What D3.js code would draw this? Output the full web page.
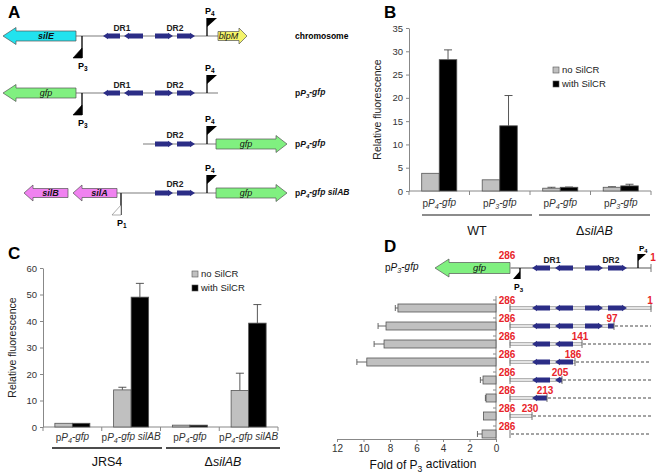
<!DOCTYPE html>
<html><head><meta charset="utf-8">
<script src="https://cdn.jsdelivr.net/npm/d3@7"></script>
<style>body{margin:0;background:#fff} svg{display:block;font-family:"Liberation Sans",Arial,sans-serif}</style>
</head><body><svg id="c" width="661" height="474"></svg>
<script>
// ---------- Panel B data ----------
const bPromoters = ["4", "3", "4", "3"];
const bStrains = ["WT", "ΔsilAB"];
const bNoSilCR = [3.8, 2.4, 0.6, 0.8];
const bNoSilCRErr = [0, 0, 0.2, 0.12];
const bWithSilCR = [28.2, 14.0, 0.8, 1.1];
const bWithSilCRErr = [2.1, 6.5, 0.05, 0.35];
const bYTicks = [0, 5, 10, 15, 20, 25, 30, 35];

// ---------- Panel C data ----------
const cConstructs = ["", " silAB", "", " silAB"];
const cStrains = ["JRS4", "ΔsilAB"];
const cNoSilCR = [1.4, 14.0, 0.7, 13.8];
const cNoSilCRErr = [0, 1.0, 0, 6.5];
const cWithSilCR = [1.4, 49.0, 0.7, 39.2];
const cWithSilCRErr = [0, 5.2, 0, 7.0];
const cYTicks = [0, 10, 20, 30, 40, 50, 60];

// ---------- Panel D data ----------
const dDeletionEnds = [1, 97, 141, 186, 205, 213, 230, 286];
const dFold = [7.4, 8.3, 8.45, 9.75, 0.98, 0.75, 0.95, 1.05];
const dFoldErr = [0.2, 0.6, 0.75, 0.75, 0.2, 0.05, 0, 0.35];
const dXTicks = [12, 10, 8, 6, 4, 2, 0];

const legendLabels = ["no SilCR", "with SilCR"];
const GREY = "#c0c0c0", BLUE = "#2b2d86", RED = "#e8232a";

const svg = d3.select("#c");

// ---------- helpers ----------
function rich(g, x, y, parts, opts) {
  const t = g.append("text").attr("x", x).attr("y", y)
    .attr("font-size", opts.size || 10).attr("fill", opts.fill || "#222")
    .attr("font-weight", opts.weight || "normal")
    .attr("text-anchor", opts.anchor || "start");
  let shifted = false;
  parts.forEach(p => {
    const s = t.append("tspan").text(p.t);
    if (p.i) s.attr("font-style", "italic");
    if (p.sub) { s.attr("dy", "0.3em").attr("font-size", (opts.size || 10) * 0.72); shifted = true; }
    else if (shifted) { s.attr("dy", "-0.3em"); shifted = false; }
  });
  return t;
}
function plasmid(prom, extra) {
  const a = [{t: "p"}, {t: "P", i: true}, {t: prom, i: true, sub: true}, {t: "-gfp" + (extra || ""), i: true}];
  return a;
}
function arrowPts(xl, xr, y, dir, bh, hh, hl) {
  if (dir < 0) return [[xl, y], [xl + hl, y - hh / 2], [xl + hl, y - bh / 2], [xr, y - bh / 2], [xr, y + bh / 2], [xl + hl, y + bh / 2], [xl + hl, y + hh / 2]];
  return [[xr, y], [xr - hl, y - hh / 2], [xr - hl, y - bh / 2], [xl, y - bh / 2], [xl, y + bh / 2], [xr - hl, y + bh / 2], [xr - hl, y + hh / 2]];
}
function gene(g, xl, xr, y, dir, fill, label, o) {
  o = o || {};
  g.append("polygon").attr("points", arrowPts(xl, xr, y, dir, o.bh || 10, o.hh || 17, o.hl || 12).join(" "))
    .attr("fill", fill).attr("stroke", "#555").attr("stroke-width", 0.7);
  const cx = dir < 0 ? (xl + (o.hl || 12) + xr) / 2 : (xl + xr - (o.hl || 12)) / 2;
  g.append("text").attr("x", cx).attr("y", y + 3.3).attr("text-anchor", "middle")
    .attr("font-size", o.fs || 9).attr("font-style", "italic").attr("font-weight", o.fw || "bold")
    .attr("fill", "#111").text(label);
}
function dr(g, xl, xr, y, dir) {
  g.append("polygon").attr("points", arrowPts(xl, xr, y, dir, 5, 6.5, 5).join(" ")).attr("fill", BLUE);
}
function promoterUp(g, x, y, label) {
  g.append("line").attr("x1", x).attr("x2", x).attr("y1", y).attr("y2", y - 18).attr("stroke", "#000").attr("stroke-width", 1.3);
  g.append("polygon").attr("points", [[x, y - 18], [x + 10, y - 18], [x, y - 9]].join(" ")).attr("fill", "#000");
  rich(g, x - 2, y - 22, [{t: "P"}, {t: label, sub: true}], {size: 9, weight: "bold", fill: "#000"});
}
function promoterDown(g, x, y, label, open) {
  g.append("line").attr("x1", x).attr("x2", x).attr("y1", y).attr("y2", y + 22).attr("stroke", open ? "#333" : "#000").attr("stroke-width", open ? 1.6 : 1.3);
  g.append("polygon").attr("points", [[x, y + 12], [x, y + 22], [x - 9, y + 22]].join(" "))
    .attr("fill", open ? "#fff" : "#000").attr("stroke", open ? "#777" : "#000").attr("stroke-width", 0.6);
  rich(g, x - 4, y + 33, [{t: "P"}, {t: label, sub: true}], {size: 9, weight: "bold", fill: "#000"});
}
function panelLetter(x, y, l) {
  svg.append("text").attr("x", x).attr("y", y).attr("font-size", 17).attr("font-weight", "bold").text(l);
}

// ================= Panel A =================
const A = svg.append("g");
panelLetter(8, 18, "A");
function backbone(x1, x2, y) {
  A.append("line").attr("x1", x1).attr("x2", x2).attr("y1", y).attr("y2", y).attr("stroke", "#bdbdbd").attr("stroke-width", 2);
}
function drLabel(x, y, t) {
  A.append("text").attr("x", x).attr("y", y).attr("text-anchor", "middle").attr("font-size", 8.5).attr("font-weight", "bold").attr("fill", "#222").text(t);
}
// row 1: chromosome
[[36, "silE", "#22e2ee"], [93, "gfp", "#80f080"]].forEach(([y, lab, col], k) => {
  backbone(76, 218, y);
  gene(A, 3, 76, y, -1, col, lab, {bh: 10, hh: 17, hl: 13, fw: k ? "normal" : "bold"});
  dr(A, 103, 120, y, -1); dr(A, 124, 143, y, -1); dr(A, 155, 173, y, 1); dr(A, 177, 195, y, 1);
  drLabel(122, y - 5, "DR1"); drLabel(175, y - 5, "DR2");
  promoterDown(A, 82, y, "3");
  promoterUp(A, 207, y, "4");
});
gene(A, 218, 247, 36, 1, "#f4f46a", "blpM", {bh: 9, hh: 16, hl: 8, fw: "normal"});
A.append("text").attr("x", 295).attr("y", 39).attr("font-size", 8.5).attr("font-weight", "bold").text("chromosome");
rich(A, 295, 96, plasmid("3"), {size: 8.5, weight: "bold", fill: "#111"});
// row 3
backbone(143, 216, 144);
dr(A, 155, 173, 144, 1); dr(A, 177, 195, 144, 1); drLabel(175, 138, "DR2");
promoterUp(A, 207, 144, "4");
gene(A, 216, 287, 144, 1, "#80f080", "gfp", {bh: 10, hh: 17, hl: 11, fw: "normal"});
rich(A, 295, 147, plasmid("4"), {size: 8.5, weight: "bold", fill: "#111"});
// row 4
backbone(117, 216, 193);
gene(A, 24, 68, 193, -1, "#f082f0", "silB", {bh: 9, hh: 16, hl: 9});
gene(A, 73, 117, 193, -1, "#f082f0", "silA", {bh: 9, hh: 16, hl: 9});
promoterDown(A, 121, 193, "1", true);
dr(A, 155, 173, 193, 1); dr(A, 177, 195, 193, 1); drLabel(175, 187, "DR2");
promoterUp(A, 207, 193, "4");
gene(A, 216, 287, 193, 1, "#80f080", "gfp", {bh: 10, hh: 17, hl: 11, fw: "normal"});
rich(A, 295, 196, plasmid("4", " silAB"), {size: 8.5, weight: "bold", fill: "#111"});

// ================= Bar chart helper (B, C) =================
function barPanel(cfg) {
  const g = svg.append("g");
  const y = d3.scaleLinear().domain([0, cfg.ymax]).range([cfg.y0, cfg.y1]);
  const x = d3.scaleBand().domain(d3.range(cfg.no.length)).range([cfg.x0, cfg.x1]).paddingInner(cfg.pad).paddingOuter(cfg.pad / 2);
  const sub = d3.scaleBand().domain([0, 1]).range([0, x.bandwidth()]);
  const yAx = g.append("g").attr("transform", `translate(${cfg.x0},0)`)
    .call(d3.axisLeft(y).tickValues(cfg.ticks).tickSize(3).tickPadding(3).tickSizeOuter(0));
  yAx.select(".domain").attr("stroke", "#888");
  yAx.selectAll(".tick line").attr("stroke", "#888");
  yAx.selectAll("text").attr("font-size", 9.5).attr("fill", "#333").attr("font-family", "Liberation Sans, Arial");
  // x axis
  g.append("line").attr("x1", cfg.x0).attr("x2", cfg.x1).attr("y1", cfg.y0).attr("y2", cfg.y0).attr("stroke", "#888");
  d3.range(cfg.no.length + 1).forEach(i => {
    const xx = cfg.x0 + x.step() * i;
    g.append("line").attr("x1", xx).attr("x2", xx).attr("y1", cfg.y0).attr("y2", cfg.y0 + 4).attr("stroke", "#888");
  });
  const series = [[cfg.no, cfg.noErr, GREY], [cfg.with, cfg.withErr, "#000"]];
  series.forEach(([vals, errs, col], s) => {
    vals.forEach((v, i) => {
      const bx = x(i) + sub(s), bw = sub.bandwidth();
      if (errs[i] > 0) {
        const cx = bx + bw / 2;
        g.append("line").attr("x1", cx).attr("x2", cx).attr("y1", y(v)).attr("y2", y(v + errs[i])).attr("stroke", "#444").attr("stroke-width", 0.9);
        g.append("line").attr("x1", cx - 4).attr("x2", cx + 4).attr("y1", y(v + errs[i])).attr("y2", y(v + errs[i])).attr("stroke", "#444").attr("stroke-width", 0.9);
      }
      g.append("rect").attr("x", bx).attr("y", y(v)).attr("width", bw).attr("height", y(0) - y(v))
        .attr("fill", col).attr("stroke", "#555").attr("stroke-width", 0.8);
    });
  });
  cfg.labels.forEach((parts, i) => {
    rich(g, x(i) + x.bandwidth() / 2, cfg.labY, parts, {size: 10, anchor: "middle", fill: "#333"});
  });
  cfg.groups.forEach((gr, k) => {
    g.append("line").attr("x1", gr[0]).attr("x2", gr[1]).attr("y1", cfg.lineY).attr("y2", cfg.lineY).attr("stroke", cfg.lineCol).attr("stroke-width", 1.5);
    const t = g.append("text").attr("x", (gr[0] + gr[1]) / 2).attr("y", cfg.strainY).attr("text-anchor", "middle").attr("font-size", 12.5).attr("fill", "#111");
    const name = cfg.strains[k];
    if (name.startsWith("Δ")) { t.append("tspan").text("Δ"); t.append("tspan").attr("font-style", "italic").text(name.slice(1)); }
    else t.text(name);
  });
  g.append("text").attr("transform", `translate(${cfg.titleX},${(cfg.y0 + cfg.y1) / 2}) rotate(-90)`).attr("text-anchor", "middle")
    .attr("font-size", 10.5).attr("fill", "#222").text("Relative fluorescence");
  legendLabels.forEach((l, k) => {
    g.append("rect").attr("x", cfg.legX).attr("y", cfg.legY + k * 14 - 6).attr("width", 6).attr("height", 6)
      .attr("fill", k ? "#000" : GREY).attr("stroke", "#555").attr("stroke-width", 0.6);
    g.append("text").attr("x", cfg.legX + 9).attr("y", cfg.legY + k * 14).attr("font-size", 9.5).attr("fill", "#222").text(l);
  });
}
panelLetter(384, 18, "B");
barPanel({
  no: bNoSilCR, noErr: bNoSilCRErr, with: bWithSilCR, withErr: bWithSilCRErr,
  ymax: 35, ticks: bYTicks, y0: 191, y1: 28, x0: 409, x1: 651, pad: 0.42,
  labels: bPromoters.map(p => plasmid(p)), labY: 207,
  groups: [[422, 532], [539, 650]], strains: bStrains, lineY: 215, lineCol: "#666", strainY: 235,
  titleX: 381, legX: 553, legY: 73
});
panelLetter(8, 259, "C");
barPanel({
  no: cNoSilCR, noErr: cNoSilCRErr, with: cWithSilCR, withErr: cWithSilCRErr,
  ymax: 60, ticks: cYTicks, y0: 427, y1: 268, x0: 43, x1: 278, pad: 0.404,
  labels: cConstructs.map(e => plasmid("4", e)), labY: 441,
  groups: [[52, 162], [166, 280]], strains: cStrains, lineY: 448, lineCol: "#111", strainY: 466,
  titleX: 16, legX: 192, legY: 277
});

// ================= Panel D =================
const D = svg.append("g");
panelLetter(384, 252, "D");
const xD = d3.scaleLinear().domain([0, 12]).range([496, 337]);
const yD = d3.scaleBand().domain(d3.range(dFold.length)).range([299, 443]);
const sD = d3.scaleLinear().domain([0, 141]).range([510, 651]);
// schematic mapping of sequence positions to drawing units (not to scale)
const posToUnit = d3.scaleLinear().domain([286, 230, 213, 205, 186, 141, 97, 1]).range([0, 22, 37, 52, 65, 72, 104, 141]);
const drUnits = [[22, 40, -1], [45, 63, -1], [75, 93, 1], [98, 117, 1]];

// x axis
const axD = D.append("g").attr("transform", "translate(0,439)")
  .call(d3.axisBottom(xD).tickValues(dXTicks).tickSize(3).tickPadding(3).tickSizeOuter(0));
axD.select(".domain").attr("stroke", "#888");
axD.selectAll(".tick line").attr("stroke", "#888");
axD.selectAll("text").attr("font-size", 10).attr("fill", "#333").attr("font-family", "Liberation Sans, Arial");
D.append("line").attr("x1", 496).attr("x2", 496).attr("y1", 296).attr("y2", 439).attr("stroke", "#888");
yD.domain().forEach(i => {
  D.append("line").attr("x1", 493).attr("x2", 496).attr("y1", yD(i) + 1).attr("y2", yD(i) + 1).attr("stroke", "#888");
});
rich(D, 423, 469, [{t: "Fold of P"}, {t: "3", sub: true}, {t: " activation"}], {size: 12, anchor: "middle", fill: "#111"});

// bars
dFold.forEach((v, i) => {
  const cy = yD(i) + yD.bandwidth() / 2;
  if (dFoldErr[i] > 0) {
    D.append("line").attr("x1", xD(v)).attr("x2", xD(v + dFoldErr[i])).attr("y1", cy).attr("y2", cy).attr("stroke", "#555").attr("stroke-width", 0.9);
    D.append("line").attr("x1", xD(v + dFoldErr[i])).attr("x2", xD(v + dFoldErr[i])).attr("y1", cy - 3).attr("y2", cy + 3).attr("stroke", "#555").attr("stroke-width", 0.9);
  }
  D.append("rect").attr("x", xD(v)).attr("y", cy - 4).attr("width", xD(0) - xD(v)).attr("height", 8)
    .attr("fill", GREY).attr("stroke", "#555").attr("stroke-width", 0.8);
});

// top construct pP3-gfp
const yTop = 268;
rich(D, 385, yTop + 3, plasmid("3"), {size: 10, fill: "#111"});
gene(D, 435, 510, yTop, -1, "#80f080", "gfp", {bh: 11, hh: 18, hl: 14, fw: "normal", fs: 9.5});
D.append("line").attr("x1", sD(0)).attr("x2", sD(141)).attr("y1", yTop).attr("y2", yTop).attr("stroke", "#aaa").attr("stroke-width", 2);
D.append("line").attr("x1", sD(141)).attr("x2", sD(141)).attr("y1", yTop - 4).attr("y2", yTop + 4).attr("stroke", "#777");
drUnits.forEach(([a, b, d]) => dr(D, sD(a), sD(b), yTop, d));
D.append("text").attr("x", 552).attr("y", yTop - 5).attr("text-anchor", "middle").attr("font-size", 8.5).attr("font-weight", "bold").attr("fill", "#222").text("DR1");
D.append("text").attr("x", 611).attr("y", yTop - 5).attr("text-anchor", "middle").attr("font-size", 8.5).attr("font-weight", "bold").attr("fill", "#222").text("DR2");
// P3 down
D.append("line").attr("x1", 520).attr("x2", 520).attr("y1", yTop).attr("y2", yTop + 11).attr("stroke", "#000").attr("stroke-width", 1.3);
D.append("polygon").attr("points", [[520, yTop + 3], [520, yTop + 11], [513, yTop + 11]].join(" ")).attr("fill", "#000");
rich(D, 514, yTop + 22, [{t: "P"}, {t: "3", sub: true}], {size: 8.5, weight: "bold", fill: "#000"});
// P4 up
D.append("line").attr("x1", 638).attr("x2", 638).attr("y1", yTop).attr("y2", yTop - 14).attr("stroke", "#000").attr("stroke-width", 1.3);
D.append("polygon").attr("points", [[638, yTop - 14], [646, yTop - 14], [638, yTop - 7]].join(" ")).attr("fill", "#000");
rich(D, 639, yTop - 17, [{t: "P"}, {t: "4", sub: true}], {size: 8, weight: "bold", fill: "#000"});
D.append("text").attr("x", sD(0) - 3).attr("y", yTop - 9).attr("text-anchor", "middle").attr("font-size", 10).attr("font-weight", "bold").attr("fill", RED).text("286");
D.append("text").attr("x", sD(141) + 2).attr("y", yTop - 7).attr("text-anchor", "middle").attr("font-size", 10).attr("font-weight", "bold").attr("fill", RED).text("1");

// deletion constructs
const defs = svg.append("defs");
dDeletionEnds.forEach((e, i) => {
  const cy = yD(i) + yD.bandwidth() / 2;
  const u = posToUnit(e);
  const row = D.append("g");
  if (u > 0) {
    row.append("rect").attr("x", sD(0)).attr("y", cy - 1.5).attr("width", sD(u) - sD(0)).attr("height", 3)
      .attr("fill", "#e4e4e4").attr("stroke", "#8a8a8a").attr("stroke-width", 0.6);
    defs.append("clipPath").attr("id", "clip" + i).append("rect")
      .attr("x", sD(0)).attr("y", cy - 10).attr("width", sD(u) - sD(0)).attr("height", 20);
    const cg = row.append("g").attr("clip-path", `url(#clip${i})`);
    drUnits.forEach(([a, b, d]) => { if (a < u) dr(cg, sD(a), sD(b), cy, d); });
  }
  row.append("line").attr("x1", sD(0)).attr("x2", sD(0)).attr("y1", cy - 4).attr("y2", cy + 4).attr("stroke", "#666").attr("stroke-width", 0.9);
  if (u > 0) row.append("line").attr("x1", sD(u)).attr("x2", sD(u)).attr("y1", cy - 4).attr("y2", cy + 4).attr("stroke", "#666").attr("stroke-width", 0.9);
  if (e !== 1) {
    row.append("line").attr("x1", sD(u) + 1).attr("x2", sD(141)).attr("y1", cy).attr("y2", cy)
      .attr("stroke", "#333").attr("stroke-width", 0.9).attr("stroke-dasharray", "3,2");
  }
  row.append("text").attr("x", sD(0) - 3).attr("y", cy - 4.5).attr("text-anchor", "middle").attr("font-size", 10).attr("font-weight", "bold").attr("fill", RED).text("286");
  if (e !== 286) {
    row.append("text").attr("x", e === 1 ? sD(u) - 1 : sD(u) - 2).attr("y", cy - 4.5).attr("text-anchor", "middle")
      .attr("font-size", 10).attr("font-weight", "bold").attr("fill", RED).text(e);
  }
});
</script></body></html>
